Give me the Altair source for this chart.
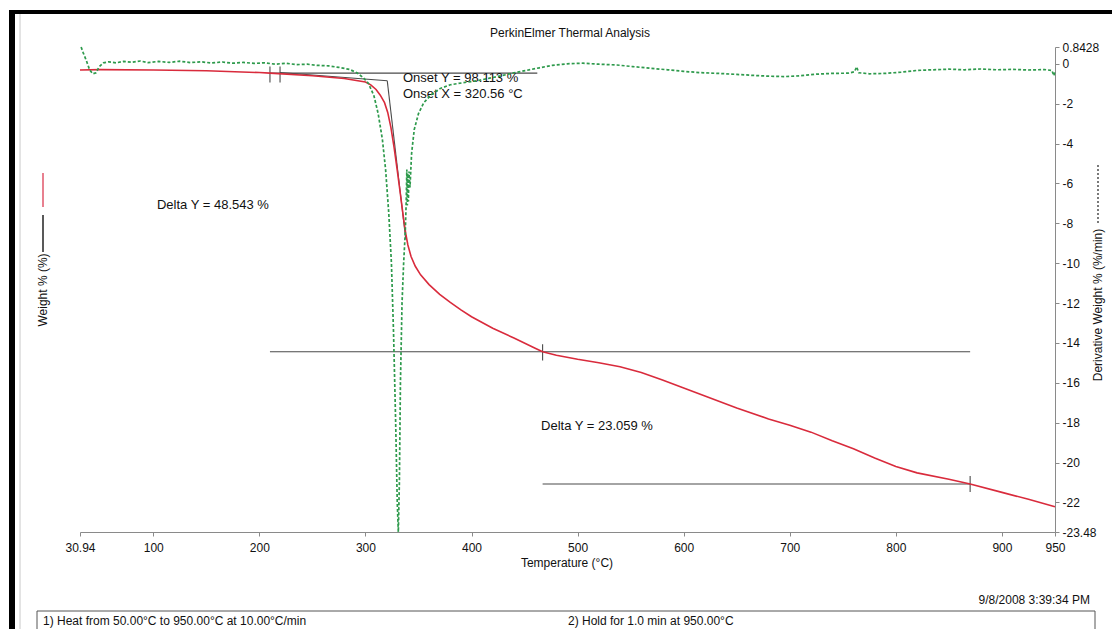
import altair as alt
import pandas as pd

# ---------------- data ----------------
temp_w = [30.94, 50, 100, 150, 200, 210, 250, 280, 300, 305, 310, 314, 318, 321, 324, 327,
          330, 333, 336, 338, 340, 343, 347, 352, 360, 370, 380, 390, 400, 420, 440, 460,
          467, 480, 500, 520, 540, 560, 580, 600, 620, 650, 680, 700, 720, 740, 760, 780,
          800, 820, 850, 870, 900, 925, 950]
weight = [100.0, 100.05, 100.0, 99.85, 99.55, 99.45, 99.0, 98.5, 97.9, 97.4, 96.6, 95.6, 94.3, 92.6, 90.0, 86.5,
          82.5, 78.3, 74.0, 71.5, 69.5, 67.5, 65.8, 64.3, 62.6, 60.9, 59.5, 58.2, 57.0, 55.0, 53.3, 51.5,
          50.9, 50.3, 49.6, 49.0, 48.3, 47.3, 46.0, 44.6, 43.2, 41.1, 39.2, 38.1, 36.9, 35.4, 34.0, 32.4,
          30.9, 29.8, 28.7, 27.85, 26.4, 25.2, 23.9]

temp_d = [32, 34, 37, 40, 43, 46, 49, 53, 58, 65, 72, 80, 88, 95, 105, 115, 125, 135, 145, 155,
          165, 175, 185, 195, 205, 215, 225, 235, 245, 255, 265, 275, 285, 292, 298, 303, 308, 312,
          316, 319, 322, 324.5, 326.5, 328.5, 330, 331, 332, 333, 334.5, 336, 337.5, 338.5, 339,
          339.5, 340, 340.5, 341, 342, 343.5, 346, 350, 355, 362, 370, 380, 392, 405, 417, 428,
          440, 452, 464, 476, 490, 505, 520, 537, 552, 568, 585, 600, 615, 632, 650, 665, 680,
          695, 710, 725, 740, 755, 761, 763, 765, 775, 790, 805, 820, 835, 850, 865, 880, 895,
          910, 925, 940, 947, 949, 950]
deriv = [0.84, 0.55, 0.15, -0.3, -0.5, -0.45, -0.15, 0.05, 0.1, 0.05, 0.12, 0.08, 0.14, 0.06, 0.12,
         0.07, 0.13, 0.06, 0.1, 0.04, 0.09, 0.03, 0.07, 0.02, 0.05, -0.02, 0.03, -0.04, -0.02, -0.08,
         -0.1, -0.18, -0.28, -0.45, -0.7, -1.0, -1.6, -2.5, -3.8, -5.3, -7.5, -10, -13.5, -18, -22,
         -23.48, -21, -16, -12, -10, -8.5, -6.8, -5.3, -7.1, -5.5, -6.9, -5.4, -6.2, -4.5, -3.3,
         -2.5, -1.95, -1.55, -1.25, -1.05, -0.95, -0.85, -0.72, -0.6, -0.45, -0.33, -0.2, -0.08,
         0.0, 0.03, -0.02, -0.06, -0.14, -0.22, -0.3, -0.38, -0.44, -0.48, -0.53, -0.58, -0.62,
         -0.64, -0.6, -0.52, -0.48, -0.47, -0.4, -0.15, -0.45, -0.5, -0.48, -0.42, -0.33, -0.3,
         -0.27, -0.3, -0.26, -0.3, -0.28, -0.31, -0.29, -0.33, -0.6, -0.35]

x_ticks = [30.94, 100, 200, 300, 400, 500, 600, 700, 800, 900, 950]
y_ticks = [19.5, 30, 40, 50, 60, 70, 80, 90, 100, 104]
y2_ticks = [-23.48, -22, -20, -18, -16, -14, -12, -10, -8, -6, -4, -2, 0, 0.8428]

# delta-Y construction lines (start T, end T, level %)
delta_t1 = [210, 210, 467]
delta_t2 = [462, 870, 870]
delta_w = [99.45, 50.9, 27.85]
# short vertical markers (T, level %)
mark_t = [210, 219.5, 467, 870]
mark_w = [99.2, 99.2, 50.8, 27.85]
# onset tangents
onset_t1 = [219.5, 320.56]
onset_t2 = [320.56, 338.0]
onset_w1 = [99.55, 98.113]
onset_w2 = [98.113, 70.5]

notes = ["Onset Y = 98.113 %", "Onset X = 320.56 °C", "Delta Y = 48.543 %", "Delta Y = 23.059 %"]
note_t = [335.4, 335.4, 103.5, 465.5]
note_w = [98.6, 95.8, 76.5, 38.0]

FONT = "Liberation Sans"
W, H = 975, 485
XDOM = [30.94, 950]
YDOM = [19.5, 104]
Y2DOM = [-23.48, 0.8428]

xs = alt.Scale(domain=XDOM, nice=False, zero=False)
ys = alt.Scale(domain=YDOM, nice=False, zero=False)
y2s = alt.Scale(domain=Y2DOM, nice=False, zero=False)

axis_common = dict(grid=False, domainColor="#8a8a8a", tickColor="#8a8a8a", tickSize=4,
                   labelFont=FONT, labelFontSize=12, labelColor="#111111",
                   labelOverlap=False, labelFlush=False, labelExpr="'' + datum.value",
                   title=None)

df_w = pd.DataFrame({"T": temp_w, "W": weight})
df_d = pd.DataFrame({"T": temp_d, "D": deriv})

red = alt.Chart(df_w).mark_line(color="#d92b3c", strokeWidth=1.6).encode(
    x=alt.X("T:Q", scale=xs, axis=alt.Axis(values=x_ticks, labelPadding=6, **axis_common)),
    y=alt.Y("W:Q", scale=ys, axis=alt.Axis(values=y_ticks, orient="left", labelPadding=3, **axis_common)),
)

df_delta = pd.DataFrame({"t1": delta_t1, "t2": delta_t2, "w": delta_w})
delta = alt.Chart(df_delta).mark_rule(color="#4a4a4a", strokeWidth=1.1).encode(
    x=alt.X("t1:Q", scale=xs), x2="t2:Q", y=alt.Y("w:Q", scale=ys, axis=None))

df_mark = pd.DataFrame({"t": mark_t, "w": mark_w})
markers = alt.Chart(df_mark).transform_calculate(
    lo="datum.w - 1.4", hi="datum.w + 1.4").mark_rule(color="#4a4a4a", strokeWidth=1.1).encode(
    x=alt.X("t:Q", scale=xs), y=alt.Y("lo:Q", scale=ys, axis=None), y2="hi:Q")

df_on = pd.DataFrame({"t1": onset_t1, "t2": onset_t2, "w1": onset_w1, "w2": onset_w2})
onset = alt.Chart(df_on).mark_rule(color="#4a4a4a", strokeWidth=1.1).encode(
    x=alt.X("t1:Q", scale=xs), x2="t2:Q", y=alt.Y("w1:Q", scale=ys, axis=None), y2="w2:Q")

df_notes = pd.DataFrame({"txt": notes, "t": note_t, "w": note_w})
note_layer = alt.Chart(df_notes).mark_text(font=FONT, fontSize=13, align="left", baseline="middle",
                                           color="#111111").encode(
    x=alt.X("t:Q", scale=xs), y=alt.Y("w:Q", scale=ys, axis=None), text="txt:N")

left = alt.layer(delta, markers, onset, red, note_layer)

green = alt.Chart(df_d).mark_line(color="#2e9a4c", strokeWidth=1.7, strokeDash=[3, 2]).encode(
    x=alt.X("T:Q", scale=xs),
    y=alt.Y("D:Q", scale=y2s, axis=alt.Axis(values=y2_ticks, orient="right", labelPadding=3, **axis_common)),
)

# ---------------- decorations (page frame, titles, legend marks) ----------------
one = pd.DataFrame({"k": [0]})


def txt(s, x, y, size=12, angle=0, align="center", baseline="middle"):
    return alt.Chart(one).mark_text(text=s, font=FONT, fontSize=size, angle=angle, align=align,
                                    baseline=baseline, color="#111111").encode(
        x=alt.value(x), y=alt.value(y))


def rule(x, x2, y, y2, color="#333333", width=1.0, dash=None):
    kw = dict(color=color, strokeWidth=width)
    if dash:
        kw["strokeDash"] = dash
    return alt.Chart(one).mark_rule(**kw).encode(
        x=alt.value(x), x2=alt.value(x2), y=alt.value(y), y2=alt.value(y2))


def box(x, x2, y, y2, color):
    return alt.Chart(one).mark_rect(color=color).encode(
        x=alt.value(x), x2=alt.value(x2), y=alt.value(y), y2=alt.value(y2))


deco = [
    box(-71, -65, -37, 582, "#000000"),
    box(-71, 1032, -37, -33, "#000000"),
    rule(-60, -60, -33, 582, color="#c8c8c8"),
    txt("PerkinElmer Thermal Analysis", 490, -14, size=12),
    txt("Temperature (°C)", 487, 516, size=12),
    txt("Weight % (%)", -37, 243, size=12, angle=270),
    rule(-37, -37, 126, 160, color="#e0566a", width=1.5),
    rule(-37, -37, 168, 205, color="#222222", width=1.5),
    txt("Derivative Weight % (%/min)", 1018, 258, size=12, angle=270),
    rule(1018, 1018, 118, 177, color="#333333", width=1.3, dash=[2, 2]),
    txt("9/8/2008 3:39:34 PM", 1010, 553, size=12, align="right"),
    rule(-43, 1015, 564, 564, color="#555555"),
    rule(-43, -43, 564, 582, color="#555555"),
    rule(1015, 1015, 564, 582, color="#555555"),
    txt("1)  Heat from 50.00°C to 950.00°C at 10.00°C/min", -37, 574, size=12, align="left"),
    txt("2)    Hold for 1.0 min at 950.00°C", 488, 574, size=12, align="left"),
]

chart = alt.layer(left, green, *deco).resolve_scale(y="independent").properties(
    width=W, height=H,
    autosize=alt.AutoSizeParams(type="none"),
    padding={"left": 80, "top": 47, "right": 57, "bottom": 97},
    background="white",
).configure_view(stroke=None)

chart.save("out.html", embed_options={"renderer": "svg", "actions": False})
